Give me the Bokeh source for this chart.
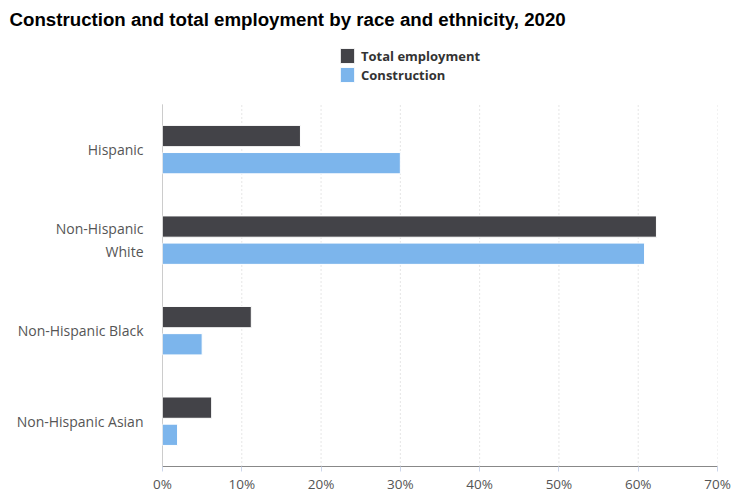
from bokeh.plotting import figure
from bokeh.models import ColumnDataSource, Legend, LegendItem, FixedTicker, Range1d, NumeralTickFormatter
from bokeh.embed import file_html
from bokeh.resources import INLINE

categories = ["Hispanic", "Non-Hispanic\nWhite", "Non-Hispanic Black", "Non-Hispanic Asian"]
total_employment = [17.4, 62.3, 11.2, 6.2]
construction = [30.0, 60.8, 5.0, 1.9]
x_ticks = [0, 10, 20, 30, 40, 50, 60, 70]

n = len(categories)
pos = [n - 0.5 - i for i in range(n)]

src = ColumnDataSource(dict(
    pos_t=[p_ + 0.15 for p_ in pos],
    pos_c=[p_ - 0.15 for p_ in pos],
    total=total_employment,
    cons=construction,
))

top_border = 30
frame_bottom = 467
plot_top_px = 104
y_top = n * (frame_bottom - top_border) / (frame_bottom - plot_top_px)

p = figure(width=731, height=495, output_backend="svg", toolbar_location=None,
           x_range=Range1d(0, 70), y_range=Range1d(0, y_top),
           min_border_left=162, min_border_right=14, min_border_bottom=28,
           min_border_top=top_border)

p.title.text = "Construction and total employment by race and ethnicity, 2020"
p.title.text_font = "Liberation Sans"
p.title.text_font_size = "18.7px"
p.title.text_font_style = "bold"
p.title.text_color = "#000000"
p.title.align = "left"
p.title.offset = -153
p.title.standoff = 2

# gridlines and y axis line limited to the category area
grid_src = ColumnDataSource(dict(x=x_ticks[1:], y0=[0] * (len(x_ticks) - 1),
                                 y1=[n] * (len(x_ticks) - 1)))
p.segment(x0="x", y0="y0", x1="x", y1="y1", source=grid_src,
          line_color="#cccccc", line_dash="1 3", line_width=1)
p.segment(x0=[0], y0=[0], x1=[0], y1=[n], line_color="#999999", line_width=1)

r_t = p.hbar(y="pos_t", right="total", left=0, height=0.235, source=src,
             fill_color="#434348", line_color="#ffffff", line_width=1)
r_c = p.hbar(y="pos_c", right="cons", left=0, height=0.235, source=src,
             fill_color="#7cb5ec", line_color="#ffffff", line_width=1)

legend = Legend(items=[LegendItem(label="Total employment", renderers=[r_t]),
                       LegendItem(label="Construction", renderers=[r_c])],
                location=(174, 380), orientation="vertical",
                label_text_font="Open Sans", label_text_font_style="bold",
                label_text_font_size="13px", label_text_color="#333333",
                glyph_width=18, glyph_height=19, spacing=0, padding=2, margin=0,
                label_standoff=5, background_fill_alpha=0, border_line_alpha=0)
p.add_layout(legend, "center")

p.xaxis.ticker = FixedTicker(ticks=x_ticks)
p.xaxis.formatter = NumeralTickFormatter(format="0")
p.xaxis.major_label_overrides = {t: f"{t}%" for t in x_ticks}
p.xaxis.major_label_text_font = "Open Sans"
p.xaxis.major_label_text_font_size = "13.5px"
p.xaxis.major_label_text_color = "#555555"
p.xaxis.axis_line_color = "#888888"
p.xaxis.major_tick_line_color = "#ccd6eb"
p.xaxis.major_tick_in = 0
p.xaxis.major_tick_out = 5
p.xaxis.minor_tick_line_color = None
p.xaxis.major_label_standoff = 3

p.yaxis.ticker = FixedTicker(ticks=pos)
p.yaxis.major_label_overrides = {pv: c for pv, c in zip(pos, categories)}
p.yaxis.major_label_text_font = "Open Sans"
p.yaxis.major_label_text_font_size = "14px"
p.yaxis.major_label_text_color = "#555555"
p.yaxis.axis_line_color = None
p.yaxis.major_tick_line_color = None
p.yaxis.minor_tick_line_color = None
p.yaxis.major_label_standoff = 13

p.ygrid.grid_line_color = None
p.xgrid.grid_line_color = None

p.outline_line_color = None

open("out.html", "w").write(file_html(p, INLINE))
